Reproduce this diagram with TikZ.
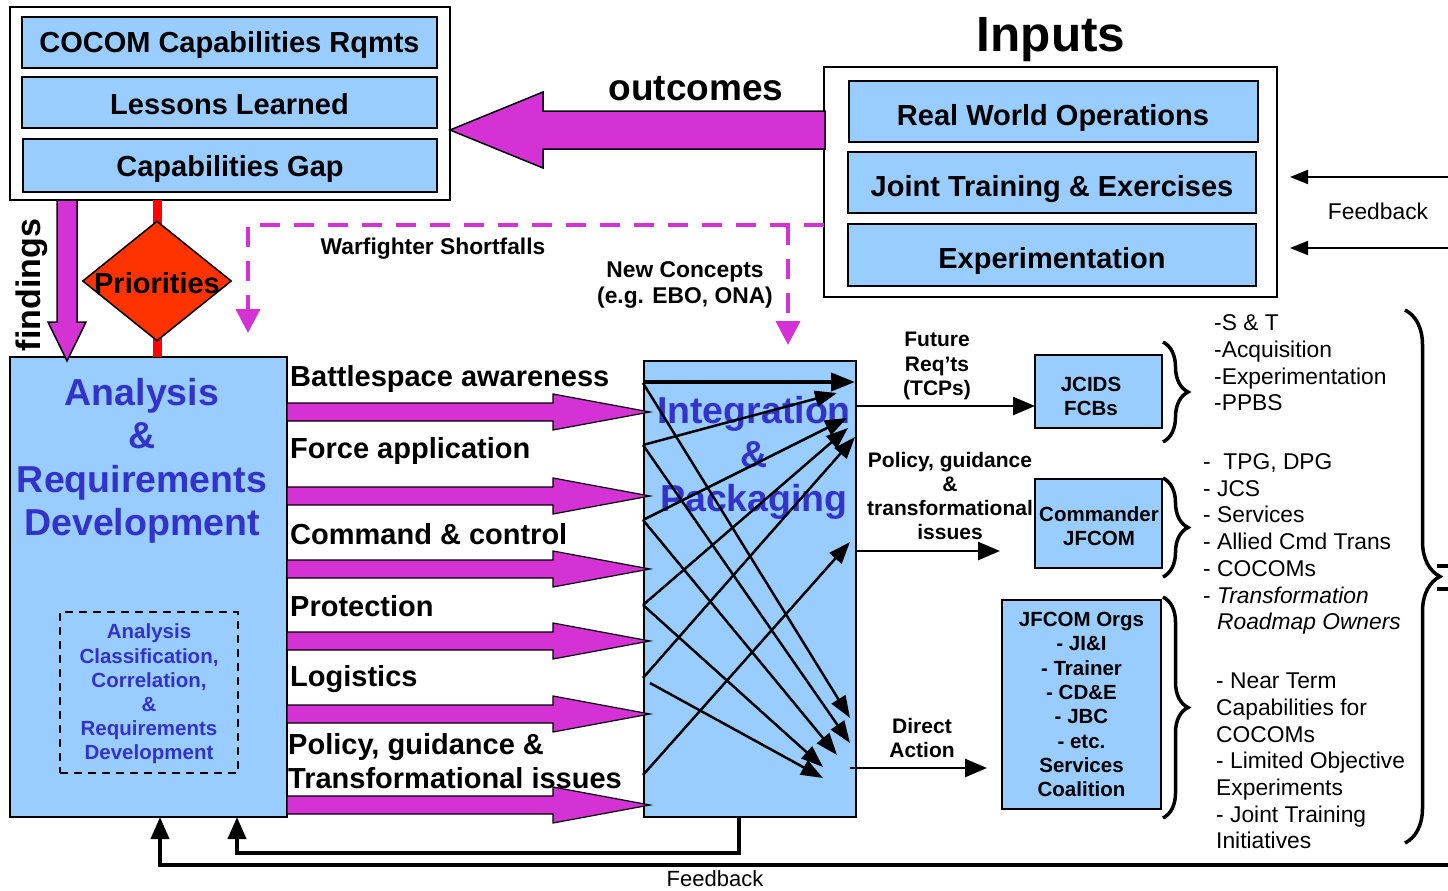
\documentclass[tikz,border=0pt]{standalone}
\usepackage{fontspec}
\setmainfont{Liberation Sans}
\usetikzlibrary{arrows.meta,shapes.geometric,decorations.pathreplacing}
\definecolor{lblue}{RGB}{153,204,255}
\definecolor{mag}{RGB}{212,50,212}
\definecolor{dblue}{RGB}{51,51,204}
\definecolor{ored}{RGB}{255,51,0}
\begin{document}
\begin{tikzpicture}[x=1pt,y=-1pt,line join=miter,
  bx/.style={draw,line width=2pt,fill=lblue,inner sep=0pt,outer sep=0pt},
  wbx/.style={draw,line width=2pt,fill=white,inner sep=0pt,outer sep=0pt},
  bigt/.style={font=\bfseries\fontsize{29}{34}\selectfont,inner sep=0pt},
  lab/.style={font=\bfseries\fontsize{29}{34}\selectfont,anchor=west,inner sep=0pt},
  smb/.style={font=\bfseries\fontsize{21}{24.3}\selectfont,align=center,inner sep=0pt},
  reg/.style={font=\fontsize{22.8}{26.7}\selectfont,align=left,anchor=west,inner sep=0pt},
  bluet/.style={font=\bfseries\fontsize{37.5}{43.5}\selectfont,text=dblue,align=center,inner sep=0pt},
  fat/.style={fill=mag,draw=black,line width=1.2pt},
  dashm/.style={draw=mag,line width=4pt,dash pattern=on 20pt off 14pt,-{Triangle[length=24pt,width=24pt,fill=mag]}},
  intarr/.style={line width=2.5pt,-{Triangle[length=22pt,width=16pt]}},
  outarr/.style={line width=2.5pt,-{Triangle[length=22pt,width=18pt]}},
  fbarr/.style={line width=4pt,-{Triangle[length=22pt,width=18pt]}},
  fbtop/.style={line width=2pt,-{Triangle[length=18pt,width=14pt]}},
  brc/.style={line width=3.5pt,decorate,decoration={brace,amplitude=#1,aspect=0.5}},
]
\useasboundingbox (0,0) rectangle (1448,891);

% ---- top-left block
\node[wbx,minimum width=440,minimum height=193] (topbox) at (230,103.5) {};
\node[bx,minimum width=415,minimum height=51] (cocom) at (229.5,42.5) {};
\node[bx,minimum width=415,minimum height=51] (lessons) at (229.5,102.5) {};
\node[bx,minimum width=414,minimum height=53] (gap) at (230,165.5) {};
\node[bigt] (cocomt) at (229.5,45.5) {COCOM Capabilities Rqmts};
\node[bigt] (lessonst) at (229.5,104.5) {Lessons Learned};
\node[bigt] (gapt) at (230,169) {Capabilities Gap};

% ---- inputs block
\node[font=\bfseries\fontsize{49.5}{56}\selectfont] (inputs) at (1051,40) {Inputs};
\node[wbx,minimum width=453,minimum height=230] (inbox) at (1050.5,182) {};
\node[bx,minimum width=409,minimum height=61] (rwo) at (1053.5,111.5) {};
\node[bx,minimum width=408,minimum height=61] (jte) at (1052,182.5) {};
\node[bx,minimum width=408,minimum height=62] (expm) at (1052,255) {};
\node[bigt] (rwot) at (1053,118) {Real World Operations};
\node[bigt] (jtet) at (1052,189) {Joint Training \& Exercises};
\node[bigt] (expt) at (1052,261) {Experimentation};

% ---- outcomes arrow
\draw[fat,line width=1.5pt] (825,111) -- (543,111) -- (543,92) -- (450,130) -- (543,168) -- (543,149) -- (825,149) -- cycle;
\node[font=\bfseries\fontsize{37}{42}\selectfont] (outc) at (696,89) {outcomes};

% ---- dashed magenta
\coordinate (dsplit) at (788,225);
\draw[dashm] (inbox.west |- dsplit) -- (248,225) -- (248,333);
\draw[dashm] (dsplit) -- (788,345);
\node[font=\bfseries\fontsize{22.8}{26}\selectfont] (wfs) at (433,249) {Warfighter Shortfalls};
\node[font=\bfseries\fontsize{22.8}{26}\selectfont,align=center] (newc) at (685,285) {New Concepts\\(e.g. EBO, ONA)};

% ---- analysis box
\node[bx,minimum width=277,minimum height=460] (ana) at (148.5,587) {};
\node[bluet] (anat) at (142,461) {Analysis\\\&\\Requirements\\Development};
\node[draw,line width=2.5pt,dash pattern=on 8pt off 6pt,minimum width=178,minimum height=161,inner sep=0pt] (inner) at (149,692.5) {};
\node[font=\bfseries\fontsize{20.5}{24.2}\selectfont,text=dblue,align=center,inner sep=0pt] (innert) at (149,694) {Analysis\\Classification,\\Correlation,\\\&\\Requirements\\Development};

% ---- red line & priorities
\draw[red,line width=9pt] (topbox.south -| 157,0) -- (ana.north -| 157,0);
\node[diamond,draw,line width=1.5pt,fill=ored,minimum width=149,minimum height=120,inner sep=0pt] (prio) at (157,281) {};
\node[font=\bfseries\fontsize{29}{34}\selectfont] (priot) at (157,283) {Priorities};

% ---- findings arrow
\draw[fat,line width=1.5pt] (57,200) -- (57,322) -- (48,322) -- (67,361) -- (86,322) -- (77,322) -- (77,200) -- cycle;
\node[rotate=90,font=\bfseries\fontsize{34}{40}\selectfont] (find) at (32,285) {findings};

% ---- integration box
\node[bx,minimum width=212,minimum height=456] (integ) at (750,589) {};
\node[bluet,font=\bfseries\fontsize{37.5}{44}\selectfont] (integt) at (754,458) {Integration\\\&\\Packaging};

% ---- fat arrows analysis -> integration
\foreach \yy in {412,496,569,641,714,805}
  \draw[fat] (287,\yy-9) -- (553,\yy-9) -- (553,\yy-18) -- (650,\yy) -- (553,\yy+18) -- (553,\yy+9) -- (287,\yy+9) -- cycle;
\node[lab] (l1) at (290,379) {Battlespace awareness};
\node[lab] (l2) at (290,451) {Force application};
\node[lab] (l3) at (290,534) {Command \& control};
\node[lab] (l4) at (290,606) {Protection};
\node[lab] (l5) at (290,679) {Logistics};
\node[lab,align=left] (l6) at (288,761) {Policy, guidance \&\\Transformational issues};

% ---- crossing arrows in integration
\draw[line width=4pt,-{Triangle[length=24pt,width=18pt]}] (643,382) -- (855,382);
\draw[intarr] (643,383) -- (850,718);
\draw[intarr] (643,445) -- (837,393);
\draw[intarr] (643,445) -- (850,743);
\draw[intarr] (643,520) -- (847,418);
\draw[intarr] (643,520) -- (837,755);
\draw[intarr] (643,605) -- (848,428);
\draw[intarr] (643,605) -- (823,767);
\draw[intarr] (643,678) -- (855,437);
\draw[intarr] (650,683) -- (823,778);
\draw[intarr] (643,775) -- (850,542);

% ---- output boxes
\node[bx,minimum width=127,minimum height=73] (jcids) at (1098.5,391.5) {};
\node[smb,font=\bfseries\fontsize{20.5}{24}\selectfont] (jcidst) at (1091,396) {JCIDS\\FCBs};
\node[bx,minimum width=127,minimum height=89] (cmdr) at (1098.5,523.5) {};
\node[smb,font=\bfseries\fontsize{20.5}{24}\selectfont] (cmdrt) at (1099,526.5) {Commander\\JFCOM};
\node[bx,minimum width=159,minimum height=209,smb,font=\bfseries\fontsize{20.5}{24.3}\selectfont] (orgs) at (1081.5,704.5) {JFCOM Orgs\\- JI\&I\\- Trainer\\- CD\&E\\- JBC\\- etc.\\Services\\Coalition};

% ---- output arrows
\draw[outarr] (integ.east |- 0,406) -- (jcids.west |- 0,406);
\draw[outarr] (integ.east |- 0,551) -- (1000,551);
\draw[outarr] (850,768) -- (987,768);
\node[smb] (fut) at (937,366) {Future\\Req’ts\\(TCPs)};
\node[smb] (pol) at (950,496) {Policy, guidance\\\&\\transformational\\issues};
\node[smb] (dir) at (922,738) {Direct\\Action};

% ---- braces
\draw[brc=25pt] (1163,342) -- (1163,442);
\draw[brc=25pt] (1163,478) -- (1163,577);
\draw[brc=25pt] (1163,597) -- (1163,818);
\draw[brc=35pt] (1405,310) -- (1405,843);
\draw[line width=3.5pt] (1437,566) -- (1448,566);
\draw[line width=3.5pt] (1437,589) -- (1448,589);

% ---- right lists
\node[reg] (list1) at (1214,363) {-S \& T\\-Acquisition\\-Experimentation\\-PPBS};
\node[reg] (list2) at (1203,544) {-\ \ TPG, DPG\\- JCS\\- Services\\- Allied Cmd Trans\\- COCOMs\\- \textit{Transformation}\\\hphantom{- }\textit{Roadmap Owners}};
\node[reg] (list3) at (1216,761) {- Near Term\\Capabilities for\\COCOMs\\- Limited Objective\\Experiments\\- Joint Training\\Initiatives};

% ---- feedback top right
\coordinate (fbr1) at (1448,177);
\coordinate (fbr2) at (1448,248);
\draw[fbtop] (fbr1) -- (1290,177);
\draw[fbtop] (fbr2) -- (1290,248);
\node[font=\fontsize{22.8}{26}\selectfont] (fbt) at (1378,211) {Feedback};

% ---- bottom feedback
\coordinate (fbb) at (1448,865);
\draw[fbarr] (fbb) -- (160,865) -- (ana.south -| 160,0);
\draw[fbarr] (integ.south -| 739,0) -- (739,853) -- (237,853) -- (ana.south -| 237,0);
\node[font=\fontsize{22}{26}\selectfont,inner sep=0pt] (fbbt) at (715,879) {Feedback};
\end{tikzpicture}
\end{document}
